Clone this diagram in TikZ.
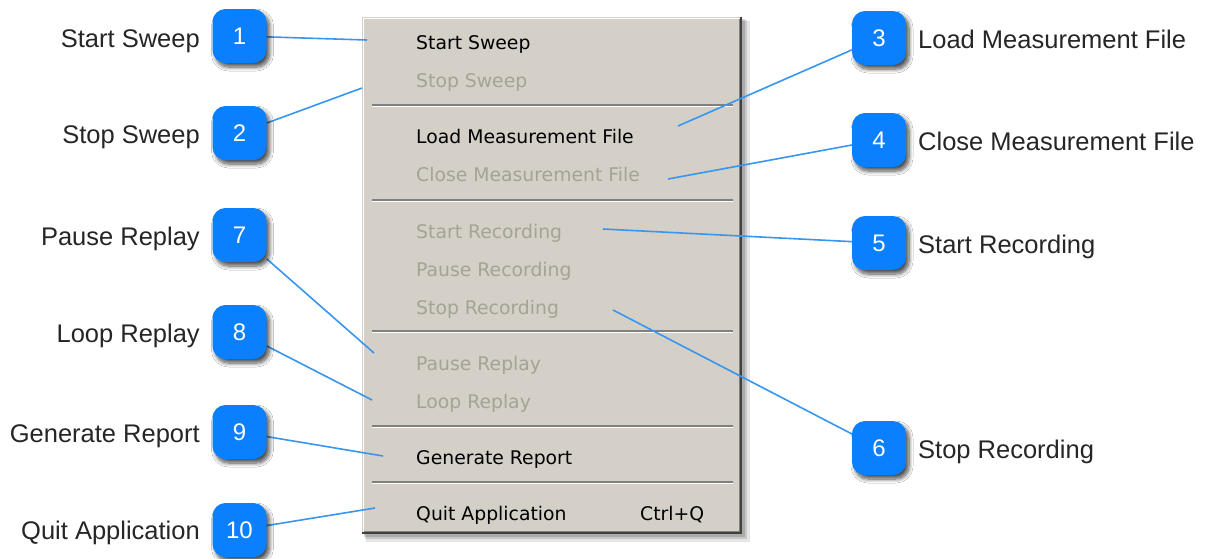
\documentclass[tikz,border=0pt]{standalone}
\usepackage{fontspec}
\setmainfont{Liberation Sans}
\newfontfamily\menufont{DejaVu Sans}
\usetikzlibrary{shadows.blur}
\definecolor{badgeblue}{RGB}{10,128,255}
\definecolor{connblue}{RGB}{55,150,240}
\definecolor{menugray}{RGB}{212,208,200}
\definecolor{disabledgray}{RGB}{165,162,152}
\definecolor{sepdark}{RGB}{128,128,128}
\pgfdeclarelayer{front}
\pgfsetlayers{main,front}
\begin{document}
\begin{tikzpicture}[x=1pt,y=-1pt,
  badge/.style={rounded corners=13pt, minimum width=54pt, minimum height=54pt, inner sep=0pt,
    fill=badgeblue, text=white, font=\fontsize{24}{24}\selectfont,
    blur shadow={shadow xshift=3pt, shadow yshift=-4pt, shadow blur steps=8, shadow opacity=70, shadow blur radius=4pt}},
  lab/.style={font=\fontsize{25.5}{28}\selectfont, text=black!85, inner sep=0pt},
  labl/.style={lab, anchor=base east},
  labr/.style={lab, anchor=base west},
  item/.style={font=\menufont\fontsize{18.8}{20}\selectfont, anchor=base west, inner sep=0pt, text=black},
  off/.style={item, text=disabledgray},
  conn/.style={connblue, line width=1.6pt},
  sepline/.style={sepdark, line width=1.5pt},
  sephl/.style={white, line width=1.5pt}
]
\useasboundingbox (0,0) rectangle (1210,558);
\fill[white] (0,0) rectangle (1210,558);

% ---------- menu ----------
\fill[black, opacity=0.10] (366,21) rectangle (750,542);
\fill[black, opacity=0.12] (365,20) rectangle (747,539);
\fill[black, opacity=0.15] (364,19) rectangle (745,537);
\fill[menugray] (362,17) rectangle (742,534);
\draw[white, line width=1.5pt] (363.5,532) -- (363.5,18.5) -- (740,18.5);
\draw[sepdark, line width=1.5pt] (364,531.5) -- (739.5,531.5) -- (739.5,19);
\draw[black!75, line width=1.5pt] (362,533.2) -- (741.2,533.2) -- (741.2,17);
\foreach \yy in {105,200,331,426,482} {
  \draw[sepline] (372,\yy) -- (733,\yy);
  \draw[sephl] (372,\yy+1.5) -- (733,\yy+1.5);
}

\node[item] (m1) at (416,49) {Start Sweep};
\node[off]  (m2) at (416,87) {Stop Sweep};
\node[item] (m3) at (416,143) {Load Measurement File};
\node[off]  (m4) at (416,181) {Close Measurement File};
\node[off]  (m5) at (416,238) {Start Recording};
\node[off]  (m6) at (416,276) {Pause Recording};
\node[off]  (m7) at (416,314) {Stop Recording};
\node[off]  (m8) at (416,370) {Pause Replay};
\node[off]  (m9) at (416,408) {Loop Replay};
\node[item] (m10) at (416,464) {Generate Report};
\node[item] (m11) at (416,520) {Quit Application};
\node[item] (m12) at (640,520) {Ctrl+Q};

% ---------- badges ----------
\begin{pgfonlayer}{front}
\node[badge] (b1) at (239.5,36) {1};
\node[badge] (b2) at (239.5,133) {2};
\node[badge] (b3) at (879,38) {3};
\node[badge] (b4) at (879,140) {4};
\node[badge] (b5) at (879,243) {5};
\node[badge] (b6) at (879,448) {6};
\node[badge] (b7) at (239.5,235) {7};
\node[badge] (b8) at (239.5,332) {8};
\node[badge] (b9) at (239.5,432) {9};
\node[badge] (b10) at (239.5,530) {10};
\end{pgfonlayer}

% ---------- labels ----------
\node[labl] (t1) at (200,47) {Start Sweep};
\node[labl] (t2) at (200,143) {Stop Sweep};
\node[labl] (t7) at (200,245) {Pause Replay};
\node[labl] (t8) at (200,342) {Loop Replay};
\node[labl] (t9) at (200,442) {Generate Report};
\node[labl] (t10) at (200,539) {Quit Application};
\node[labr] (t3) at (918,48) {Load Measurement File};
\node[labr] (t4) at (918,150) {Close Measurement File};
\node[labr] (t5) at (918,253) {Start Recording};
\node[labr] (t6) at (918,458) {Stop Recording};

% ---------- connector ends ----------
\coordinate (p1) at (367,40);
\coordinate (p2) at (362,88);
\coordinate (p3) at (678,126);
\coordinate (p4) at (668,179);
\coordinate (p5) at (603,229);
\coordinate (p6) at (613,310);
\coordinate (p7) at (374,353);
\coordinate (p8) at (372,400);
\coordinate (p9) at (383,456);
\coordinate (p10) at (375,508);

\foreach \i in {1,...,10} { \draw[conn] (b\i) -- (p\i); }
\end{tikzpicture}
\end{document}
